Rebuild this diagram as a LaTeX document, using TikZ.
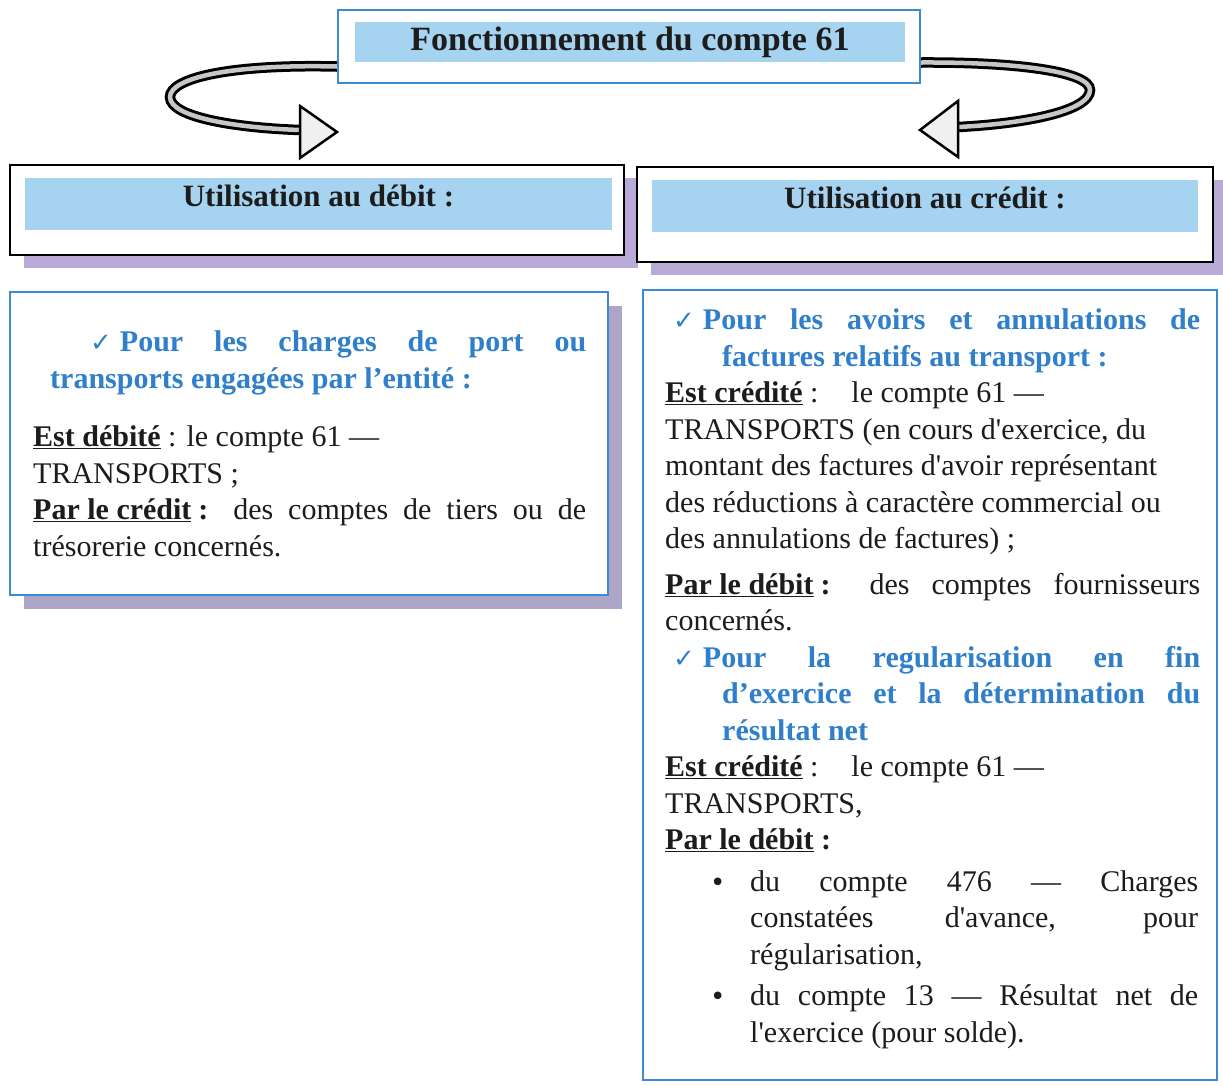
\documentclass[tikz,border=0pt]{standalone}
\usepackage{fontspec}
\setmainfont{Liberation Serif}[Ligatures=TeXOff]
\newfontfamily\symfont{DejaVu Sans}
\usetikzlibrary{positioning,shadows}

\definecolor{bandblue}{HTML}{A6D3F0}
\definecolor{frameblue}{HTML}{3C8AD2}
\definecolor{headblue}{HTML}{2F7FCB}
\definecolor{shadowlilac}{HTML}{B9AAD8}
\definecolor{shadowgrey}{HTML}{ADA6C6}
\definecolor{inkdark}{HTML}{1C1C1C}

\newcommand{\chk}{{\symfont\bfseries\fontsize{26}{26}\selectfont ✓}}
\newcommand{\bul}{\makebox[40pt][l]{\symfont\fontsize{26}{26}\selectfont •}}
\newcommand{\heading}{\bfseries\color{headblue}}

\begin{document}
\begin{tikzpicture}[x=1pt,y=-1pt,
  band/.style={fill=bandblue,inner sep=0pt,text=inkdark,font=\bfseries\fontsize{31}{36}\selectfont},
  hdrframe/.style={draw=black,line width=2pt,fill=white,inner sep=0pt,
    drop shadow={fill=shadowlilac,opacity=1,shadow xshift=14pt,shadow yshift=-13pt}},
  bodyframe/.style={draw=frameblue,line width=2pt,fill=white,inner sep=0pt},
  bodytext/.style={anchor=base west,align=left,inner sep=0pt,text=inkdark,font=\fontsize{30}{36.5}\selectfont},
  shaft/.style={line width=3pt,double=black!22,double distance=4.5pt},
  tiphead/.style={line width=2.5pt,fill=black!6,line join=miter}]
\useasboundingbox[fill=white] (0,0) rectangle (1223,1085);

% title
\node[draw=frameblue,line width=2pt,fill=white,inner sep=0pt,minimum width=582pt,minimum height=73pt] (titlebox) at (629,46.5) {};
\node[band,minimum width=550pt,minimum height=40pt,font=\bfseries\fontsize{34}{40}\selectfont] (titleband) at (630,42) {Fonctionnement du compte 61};

% headers
\node[hdrframe,minimum width=614pt,minimum height=90pt] (debitframe) at (317,210) {};
\node[band,minimum width=587pt,minimum height=52pt,text height=22pt,text depth=18pt] (debitband) at (318.5,204) {Utilisation au débit :};
\node[hdrframe,minimum width=576pt,minimum height=95pt] (creditframe) at (925,214.5) {};
\node[band,minimum width=546pt,minimum height=52pt,text height=22pt,text depth=18pt] (creditband) at (925,206) {Utilisation au crédit :};

% curved arrows
\coordinate (ltip) at (300,130);
\coordinate (rtip) at (958,127);
\draw[shaft] ([yshift=-20pt]titlebox.west) .. controls (230,64) and (170,78) .. (170,97)
  .. controls (170,118) and (240,128) .. (ltip);
\draw[tiphead] ([yshift=24pt]ltip) -- ([xshift=37pt,yshift=-2pt]ltip) -- ([yshift=-28pt]ltip) -- cycle;
\draw[shaft] ([yshift=-16pt]titlebox.east) .. controls (1020,62) and (1090,72) .. (1090,90)
  .. controls (1090,112) and (1020,124) .. (rtip);
\draw[tiphead] ([yshift=26pt]rtip) -- ([xshift=-38pt,yshift=-3pt]rtip) -- ([yshift=-30pt]rtip) -- cycle;

% body boxes
\node[bodyframe,minimum width=598pt,minimum height=303pt,
  drop shadow={fill=shadowgrey,opacity=1,shadow xshift=14pt,shadow yshift=-14pt}] (debitbody) at (309,443.5) {};
\node[bodyframe,minimum width=574pt,minimum height=790pt] (creditbody) at (930,685) {};

% texts, placed by the baseline of their last line
\node[bodytext] (debittext) at (33,556) {%
\hspace*{57pt}\makebox[496pt][s]{\heading\chk\hspace{8pt}Pour les charges de port ou}\\
\hspace*{17pt}{\heading transports engagées par l’entité :}\\[22pt]
\underline{\textbf{Est débité}} : le compte 61 —\\
TRANSPORTS ;\\
\makebox[553pt][s]{\underline{\textbf{Par le crédit}}\hspace{7pt}\textbf{:} des comptes de tiers ou de}\\
trésorerie concernés.};

\node[bodytext] (credittext) at (665,1042) {%
\hspace*{8pt}\makebox[527pt][s]{\heading\chk\hspace{8pt}Pour les avoirs et annulations de}\\
\hspace*{57pt}{\heading factures relatifs au transport :}\\
\underline{\textbf{Est crédité}} :\hspace{1.1em}le compte 61 —\\
TRANSPORTS (en cours d'exercice, du\\
montant des factures d'avoir représentant\\
des réductions à caractère commercial ou\\
des annulations de factures) ;\\[9pt]
\makebox[535pt][s]{\underline{\textbf{Par le débit}}\hspace{7pt}\textbf{:} des comptes fournisseurs}\\
concernés.\\
\hspace*{8pt}\makebox[527pt][s]{\heading\chk\hspace{8pt}Pour la regularisation en fin}\\
\hspace*{57pt}\makebox[478pt][s]{\heading d’exercice et la détermination du}\\
\hspace*{57pt}{\heading résultat net}\\
\underline{\textbf{Est crédité}} :\hspace{1.1em}le compte 61 —\\
TRANSPORTS,\\
\underline{\textbf{Par le débit}} \textbf{:}\\[5pt]
\hspace*{45pt}\bul\makebox[448pt][s]{du compte 476 — Charges}\\
\hspace*{85pt}\makebox[448pt][s]{constatées d'avance, pour}\\
\hspace*{85pt}régularisation,\\[5pt]
\hspace*{45pt}\bul\makebox[448pt][s]{du compte 13 — Résultat net de}\\
\hspace*{85pt}l'exercice (pour solde).};
\end{tikzpicture}
\end{document}
